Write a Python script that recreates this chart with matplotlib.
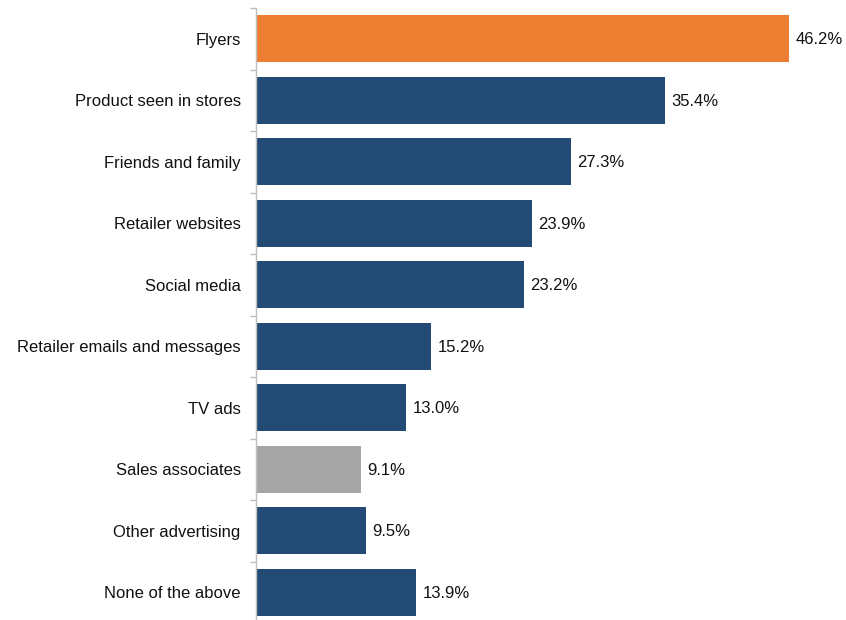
import matplotlib
matplotlib.use("Agg")
import matplotlib.pyplot as plt
import numpy as np

plt.rcParams["font.family"] = ["Liberation Sans", "DejaVu Sans"]

# 카테고리와 값 (위에서 아래 순서)
labels = ["Flyers", "Product seen in stores", "Friends and family",
          "Retailer websites", "Social media", "Retailer emails and messages",
          "TV ads", "Sales associates", "Other advertising", "None of the above"]
values = [46.2, 35.4, 27.3, 23.9, 23.2, 15.2, 13.0, 9.1, 9.5, 13.9]
colors = ["#ED7D31", "#234B75", "#234B75", "#234B75", "#234B75", "#234B75",
          "#234B75", "#A5A5A5", "#234B75", "#234B75"]

W, H = 846, 620
fig = plt.figure(figsize=(W / 100, H / 100), dpi=100)
# 축 영역: 픽셀 좌표로 배치
x0, x1 = 256, 256 + 50 * 11.54
y_top, y_bot = 8, 623
ax = fig.add_axes([x0 / W, (H - y_bot) / H, (x1 - x0) / W, (y_bot - y_top) / H])

n = len(labels)
pos = np.arange(n)
ax.barh(pos, values, height=0.76, color=colors, edgecolor="none")
for p, v in zip(pos, values):
    ax.text(v + 0.55, p + 0.02, f"{v:.1f}%", va="center", ha="left",
            fontsize=12, color="#111111")

ax.set_xlim(0, 50)
ax.set_ylim(n - 0.5, -0.5)
ax.set_yticks(pos)
ax.set_yticklabels(labels, fontsize=12, color="#111111")
ax.tick_params(axis="y", which="major", length=0, pad=11)
ax.set_yticks(np.arange(n + 1) - 0.5, minor=True)
ax.tick_params(axis="y", which="minor", length=4, color="#BFBFBF", width=1)
ax.set_xticks([])
for s in ["top", "right", "bottom"]:
    ax.spines[s].set_visible(False)
ax.spines["left"].set_color("#BFBFBF")
ax.spines["left"].set_linewidth(1)

fig.savefig("out.png", dpi=100)
